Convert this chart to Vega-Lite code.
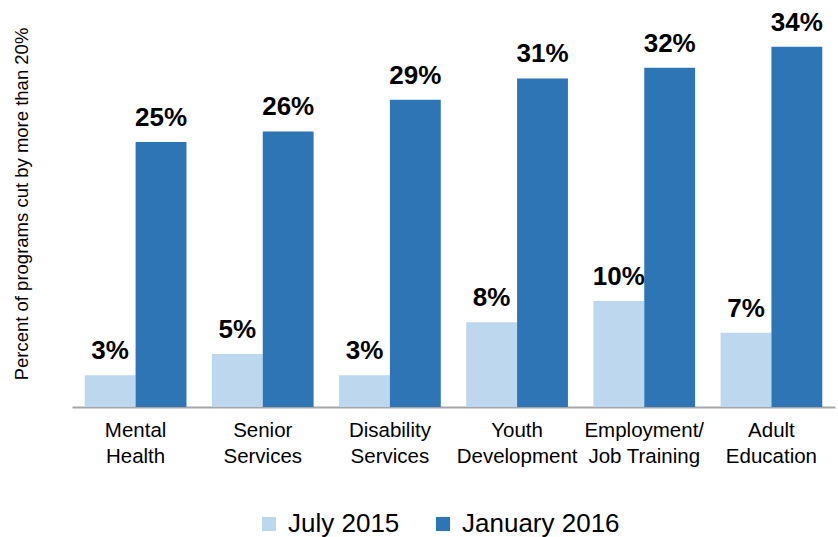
{
  "$schema": "https://vega.github.io/schema/vega-lite/v6.json",
  "autosize": "none",
  "width": 763,
  "height": 407,
  "padding": {"left": 72, "top": 0, "right": 3, "bottom": 130},
  "background": "white",
  "config": {
    "view": {"stroke": null},
    "font": "Liberation Sans"
  },
  "data": {
    "values": [
      {"category": "Mental|Health", "period": "July 2015", "value": 3},
      {"category": "Mental|Health", "period": "January 2016", "value": 25},
      {"category": "Senior|Services", "period": "July 2015", "value": 5},
      {"category": "Senior|Services", "period": "January 2016", "value": 26},
      {"category": "Disability|Services", "period": "July 2015", "value": 3},
      {"category": "Disability|Services", "period": "January 2016", "value": 29},
      {"category": "Youth|Development", "period": "July 2015", "value": 8},
      {"category": "Youth|Development", "period": "January 2016", "value": 31},
      {"category": "Employment/|Job Training", "period": "July 2015", "value": 10},
      {"category": "Employment/|Job Training", "period": "January 2016", "value": 32},
      {"category": "Adult|Education", "period": "July 2015", "value": 7},
      {"category": "Adult|Education", "period": "January 2016", "value": 34}
    ]
  },
  "encoding": {
    "x": {
      "field": "category",
      "type": "nominal",
      "sort": null,
      "scale": {"paddingInner": 0.2, "paddingOuter": 0.1},
      "axis": {
        "title": null,
        "labelAngle": 0,
        "labelExpr": "split(datum.label, '|')",
        "labelFont": "Liberation Sans",
        "labelFontSize": 20.5,
        "labelColor": "#000000",
        "labelLineHeight": 26,
        "labelBaseline": "top",
        "labelPadding": 13,
        "labelOverlap": false,
        "labelBound": false,
        "labelFlush": false,
        "ticks": false,
        "domainColor": "#a6a6a6",
        "domainWidth": 2,
        "grid": false
      }
    },
    "xOffset": {
      "field": "period",
      "type": "nominal",
      "sort": ["July 2015", "January 2016"],
      "scale": {"paddingInner": 0, "paddingOuter": 0}
    },
    "y": {
      "field": "value",
      "type": "quantitative",
      "scale": {"domain": [0, 38.4], "nice": false, "zero": true},
      "axis": {
        "title": "Percent of programs cut by  more than 20%",
        "titleFont": "Liberation Sans",
        "titleFontSize": 18.5,
        "titleFontWeight": "normal",
        "titleColor": "#000000",
        "titlePadding": 41,
        "labels": false,
        "ticks": false,
        "domain": false,
        "grid": false
      }
    }
  },
  "layer": [
    {
      "mark": {"type": "bar"},
      "encoding": {
        "color": {
          "field": "period",
          "type": "nominal",
          "sort": ["July 2015", "January 2016"],
          "scale": {"domain": ["July 2015", "January 2016"], "range": ["#BDD7EE", "#2E75B6"]},
          "legend": {
            "title": null,
            "orient": "none",
            "legendX": 184,
            "legendY": 511,
            "direction": "horizontal",
            "symbolType": "square",
            "symbolSize": 200,
            "symbolStrokeWidth": 0,
            "labelFont": "Liberation Sans",
            "labelFontSize": 26,
            "labelColor": "#000000",
            "columnPadding": 30,
            "labelOffset": 6
          }
        }
      }
    },
    {
      "mark": {
        "type": "text",
        "baseline": "alphabetic",
        "dy": -16,
        "fontSize": 26,
        "fontWeight": "bold",
        "font": "Liberation Sans",
        "color": "#000000",
        "text": {"expr": "datum.value + '%'"}
      }
    }
  ]
}
